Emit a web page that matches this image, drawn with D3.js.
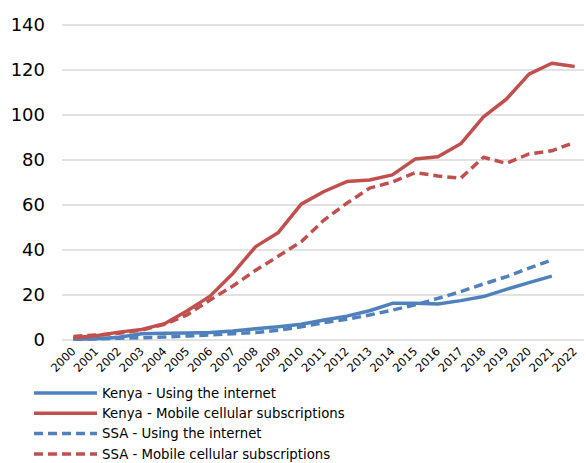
<!DOCTYPE html>
<html><head><meta charset="utf-8">
<script src="https://cdn.jsdelivr.net/npm/d3@7"></script>
<style>body{margin:0;background:#fff;} svg{display:block;} text{font-family:"DejaVu Sans",sans-serif;fill:#000;}</style>
</head><body>
<svg id="c" width="586" height="463"></svg>
<script>
const years = d3.range(2000, 2023).map(String);
const yTicks = [0, 20, 40, 60, 80, 100, 120, 140];
const kenyaInternet = [0.3, 0.6, 1.2, 2.8, 3.0, 3.1, 3.3, 4.0, 5.0, 5.9, 7.0, 8.9, 10.6, 13.0, 16.3, 16.3, 16.0, 17.5, 19.3, 22.5, 25.5, 28.4, null];
const kenyaMobile = [1.0, 1.9, 3.5, 4.7, 7.2, 13.0, 19.5, 29.6, 41.5, 47.8, 60.4, 66.0, 70.4, 71.1, 73.4, 80.4, 81.4, 87.2, 99.2, 107.0, 118.2, 123.0, 121.6];
const ssaInternet = [0.4, 0.5, 0.8, 1.0, 1.3, 1.8, 2.2, 2.8, 3.3, 4.3, 5.9, 7.7, 9.2, 11.1, 13.3, 15.6, 18.5, 21.5, 24.9, 28.1, 31.9, 35.6, null];
const ssaMobile = [1.6, 2.2, 3.0, 4.4, 7.0, 11.2, 17.8, 24.0, 31.0, 37.3, 43.7, 53.3, 60.8, 67.5, 70.2, 74.4, 72.9, 71.9, 81.2, 78.5, 82.7, 84.1, 87.8];
const seriesNames = ["Kenya - Using the internet", "Kenya - Mobile cellular subscriptions", "SSA - Using the internet", "SSA - Mobile cellular subscriptions"];

const blue = "#4F81BD", red = "#C0504D";
const series = [
  {name: seriesNames[0], values: kenyaInternet, color: blue, dash: null},
  {name: seriesNames[1], values: kenyaMobile, color: red, dash: null},
  {name: seriesNames[2], values: ssaInternet, color: blue, dash: "9,5"},
  {name: seriesNames[3], values: ssaMobile, color: red, dash: "9,5"}
];

const svg = d3.select("#c");
const mLeft = 62, mRight = 586, mTop = 25, mBottom = 340;
const x = d3.scaleBand().domain(years).range([mLeft, mRight]);
const y = d3.scaleLinear().domain([0, 140]).range([mBottom, mTop]);
const cx = d => x(d) + x.bandwidth() / 2;

svg.append("g").selectAll("line").data(yTicks).join("line")
  .attr("x1", mLeft).attr("x2", 584)
  .attr("y1", d => y(d)).attr("y2", d => y(d))
  .attr("stroke", "#D9D9D9").attr("stroke-width", 1.5);

svg.append("g").selectAll("text").data(yTicks).join("text")
  .attr("x", 45).attr("y", d => y(d)).attr("dy", "0.36em")
  .attr("text-anchor", "end").attr("font-size", 18).text(d => d);

svg.append("g").selectAll("text").data(years).join("text")
  .attr("transform", d => `translate(${cx(d) + 3},${352}) rotate(-45)`)
  .attr("text-anchor", "end").attr("font-size", 11.5).text(d => d);

const line = d3.line()
  .defined(d => d.v != null)
  .x(d => cx(d.year)).y(d => y(d.v));

const order = [2, 0, 3, 1];
order.forEach(i => {
  const s = series[i];
  svg.append("path")
    .datum(years.map((yr, j) => ({year: yr, v: s.values[j]})))
    .attr("d", line).attr("fill", "none")
    .attr("stroke", s.color).attr("stroke-width", 3.5)
    .attr("stroke-linejoin", "round")
    .attr("stroke-dasharray", s.dash);
});

const lg = svg.append("g");
series.forEach((s, i) => {
  const yy = 393 + i * 20.3;
  lg.append("line").attr("x1", 34).attr("x2", 97).attr("y1", yy).attr("y2", yy)
    .attr("stroke", s.color).attr("stroke-width", 3.5).attr("stroke-dasharray", s.dash);
  lg.append("text").attr("x", 102).attr("y", yy).attr("dy", "0.36em")
    .attr("font-size", 13.3).text(s.name);
});
</script>
</body></html>
